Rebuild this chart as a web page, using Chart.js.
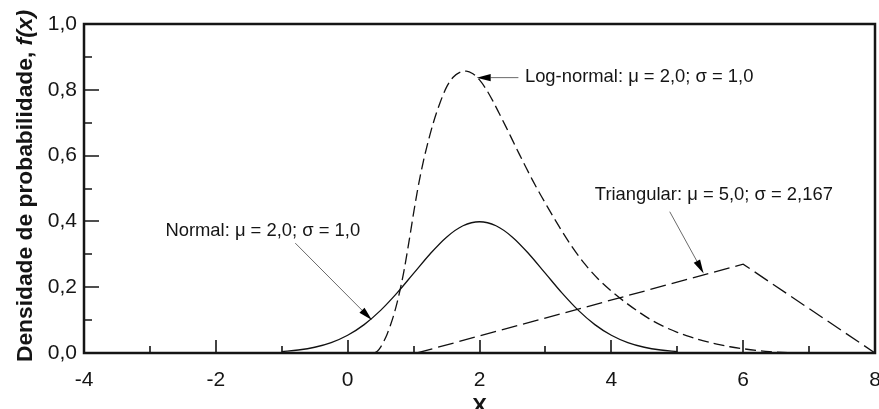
<!DOCTYPE html>
<html><head><meta charset="utf-8">
<script src="https://cdn.jsdelivr.net/npm/chart.js@4"></script>
<style>html,body{margin:0;padding:0;background:#fff;overflow:hidden}canvas{display:block}</style>
</head><body>
<canvas id="c" width="879" height="409"></canvas>
<script>
// ---- data ----
const normalX = [-1.0,-0.75,-0.5,-0.25,0,0.25,0.5,0.75,1.0,1.25,1.5,1.75,2.0,2.25,2.5,2.75,3.0,3.25,3.5,3.75,4.0,4.25,4.5,4.75,5.0];
const normalY = [0.0044,0.0091,0.0175,0.0317,0.054,0.0863,0.1295,0.1826,0.242,0.3011,0.3521,0.3867,0.3989,0.3867,0.3521,0.3011,0.242,0.1826,0.1295,0.0863,0.054,0.0317,0.0175,0.0091,0.0044];
const lognormalX = [0.4,0.45,0.5,0.55,0.6,0.65,0.7,0.75,0.8,0.85,0.9,0.95,1.0,1.05,1.1,1.15,1.2,1.3,1.4,1.5,1.6,1.7,1.8,1.9,2.0,2.1,2.2,2.3,2.4,2.5,2.6,2.7,2.8,2.9,3.0,3.2,3.4,3.6,3.8,4.0,4.2,4.4,4.6,4.8,5.0,5.2,5.4,5.6,5.8,6.0,6.2,6.4,6.6,6.8];
const lognormalY = [0,0.005,0.018,0.036,0.058,0.085,0.116,0.153,0.196,0.245,0.302,0.363,0.425,0.484,0.537,0.584,0.626,0.70,0.76,0.808,0.838,0.853,0.857,0.849,0.83,0.802,0.767,0.728,0.688,0.647,0.606,0.566,0.527,0.49,0.455,0.387,0.324,0.27,0.225,0.188,0.156,0.127,0.101,0.08,0.063,0.049,0.037,0.027,0.019,0.013,0.008,0.004,0.0015,0];
const triangularX = [1.05,6.0,8.0];
const triangularY = [0,0.27,0];
const xTickValues = [-4,-2,0,2,4,6,8];
const xTickLabels = ['-4','-2','0','2','4','6','8'];
const xMinorValues = [-3,-1,1,3,5,7];
const yTickValues = [0,0.2,0.4,0.6,0.8,1.0];
const yTickLabels = ['0,0','0,2','0,4','0,6','0,8','1,0'];
const yMinorValues = [0.1,0.3,0.5,0.7,0.9];
const annotationTexts = ['Normal: μ = 2,0; σ = 1,0','Log-normal: μ = 2,0; σ = 1,0','Triangular: μ = 5,0; σ = 2,167'];
const yTitleMain = 'Densidade de probabilidade, ';
const yTitleItalic = 'f(x)';
const xTitle = 'X';

// ---- drawing ----
const FONT = '"Liberation Sans", Arial, sans-serif';
const INK = '#151515';
const toPts = (xs, ys) => xs.map((x, i) => ({x: x, y: ys[i]}));

// annotation geometry in data units: [textX, textY, fromX, fromY, tipX, tipY]
const annoGeom = [
  [-2.765, 0.372, -0.795, 0.334, 0.367, 0.10],
  [2.689, 0.839, 2.59, 0.837, 1.957, 0.837],
  [3.75, 0.479, 4.886, 0.4295, 5.40, 0.242]
];

const decor = {
  id: 'decor',
  afterDraw(chart) {
    const ctx = chart.ctx, a = chart.chartArea;
    const xs = chart.scales.x, ys = chart.scales.y;
    ctx.save();
    // inward ticks
    ctx.strokeStyle = INK; ctx.lineWidth = 1.6;
    ctx.beginPath();
    xTickValues.forEach(v => { const p = Math.round(xs.getPixelForValue(v)); ctx.moveTo(p, a.bottom); ctx.lineTo(p, a.bottom - 13); });
    xMinorValues.forEach(v => { const p = Math.round(xs.getPixelForValue(v)); ctx.moveTo(p, a.bottom); ctx.lineTo(p, a.bottom - 7); });
    yTickValues.forEach(v => { const p = Math.round(ys.getPixelForValue(v)); ctx.moveTo(a.left, p); ctx.lineTo(a.left + 15, p); });
    yMinorValues.forEach(v => { const p = Math.round(ys.getPixelForValue(v)); ctx.moveTo(a.left, p); ctx.lineTo(a.left + 8, p); });
    ctx.stroke();
    // frame
    ctx.lineWidth = 2.5;
    ctx.strokeRect(a.left, a.top, a.right - a.left, a.bottom - a.top);

    // annotations
    annotationTexts.forEach((t, i) => {
      const g = annoGeom[i];
      const fx = xs.getPixelForValue(g[2]), fy = ys.getPixelForValue(g[3]);
      const tx = xs.getPixelForValue(g[4]), ty = ys.getPixelForValue(g[5]);
      ctx.strokeStyle = '#6a6a6a'; ctx.lineWidth = 1;
      const ang = Math.atan2(ty - fy, tx - fx);
      const hl = 14, hw = 3.6;
      const bx = tx - hl * Math.cos(ang), by = ty - hl * Math.sin(ang);
      ctx.beginPath(); ctx.moveTo(fx, fy); ctx.lineTo(bx, by); ctx.stroke();
      ctx.fillStyle = '#000';
      ctx.beginPath();
      ctx.moveTo(tx, ty);
      ctx.lineTo(bx + hw * Math.sin(ang), by - hw * Math.cos(ang));
      ctx.lineTo(bx - hw * Math.sin(ang), by + hw * Math.cos(ang));
      ctx.closePath(); ctx.fill();
      ctx.fillStyle = INK;
      ctx.font = '18.4px ' + FONT;
      ctx.textAlign = 'left'; ctx.textBaseline = 'middle';
      ctx.fillText(t, xs.getPixelForValue(g[0]), ys.getPixelForValue(g[1]));
    });

    // axis titles
    ctx.fillStyle = INK;
    ctx.font = 'bold 22px ' + FONT;
    ctx.textAlign = 'center'; ctx.textBaseline = 'alphabetic';
    ctx.fillText(xTitle, (a.left + a.right) / 2, 412.5);

    ctx.translate(32, 186);
    ctx.rotate(-Math.PI / 2);
    const fs = 22.8;
    ctx.font = 'bold ' + fs + 'px ' + FONT;
    const w1 = ctx.measureText(yTitleMain).width;
    ctx.font = 'italic bold ' + fs + 'px ' + FONT;
    const w2 = ctx.measureText(yTitleItalic).width;
    const start = -(w1 + w2) / 2;
    ctx.textAlign = 'left';
    ctx.font = 'bold ' + fs + 'px ' + FONT;
    ctx.fillText(yTitleMain, start, 0);
    ctx.font = 'italic bold ' + fs + 'px ' + FONT;
    ctx.fillText(yTitleItalic, start + w1, 0);
    ctx.restore();
  }
};

const lineBase = {pointRadius: 0, borderColor: '#111', borderWidth: 1.3, fill: false};

new Chart(document.getElementById('c'), {
  type: 'line',
  data: {
    datasets: [
      Object.assign({label: 'Normal', data: toPts(normalX, normalY), cubicInterpolationMode: 'monotone'}, lineBase),
      Object.assign({label: 'Log-normal', data: toPts(lognormalX, lognormalY), cubicInterpolationMode: 'monotone', borderDash: [11, 5]}, lineBase),
      Object.assign({label: 'Triangular', data: toPts(triangularX, triangularY), tension: 0, borderDash: [16, 6]}, lineBase)
    ]
  },
  options: {
    responsive: false,
    animation: false,
    devicePixelRatio: 1,
    layout: {padding: {top: 24, right: 4, left: 0, bottom: 0}},
    plugins: {legend: {display: false}, tooltip: {enabled: false}},
    scales: {
      x: {
        type: 'linear', min: -4, max: 8,
        grid: {display: false, drawTicks: false},
        border: {display: false},
        afterBuildTicks: s => { s.ticks = xTickValues.map(v => ({value: v})); },
        ticks: {
          autoSkip: false, maxRotation: 0, padding: 15, color: INK,
          font: {family: FONT, size: 21},
          callback: v => xTickLabels[xTickValues.indexOf(v)]
        },
        afterFit: s => { s.height = 56; s.paddingLeft = 0; s.paddingRight = 0; }
      },
      y: {
        type: 'linear', min: 0, max: 1,
        grid: {display: false, drawTicks: false},
        border: {display: false},
        afterBuildTicks: s => { s.ticks = yTickValues.map(v => ({value: v})); },
        ticks: {
          autoSkip: false, padding: 7, color: INK,
          font: {family: FONT, size: 21},
          callback: v => yTickLabels[yTickValues.indexOf(v)]
        },
        afterFit: s => { s.width = 84; s.paddingTop = 0; s.paddingBottom = 0; }
      }
    }
  },
  plugins: [decor]
});
</script>
</body></html>
